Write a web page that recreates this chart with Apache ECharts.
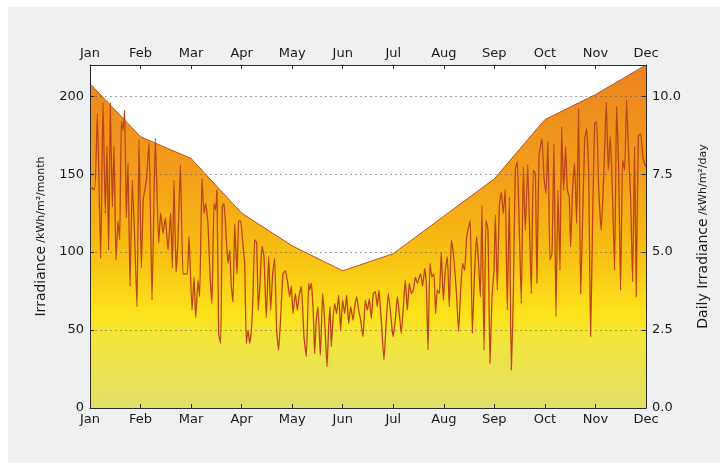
<!DOCTYPE html>
<html>
<head>
<meta charset="utf-8">
<script src="https://cdn.jsdelivr.net/npm/echarts@6/dist/echarts.min.js"></script>
<style>
body { margin: 0; background: #fff; }
#panel { position: absolute; left: 8px; top: 7px; width: 712px; height: 456px; background: #eff0f2; }
#chart { position: absolute; left: 0; top: 0; width: 728px; height: 473px; }
</style>
</head>
<body>
<div id="panel"></div>
<div id="chart"></div>
<script>
const months = ['Jan', 'Feb', 'Mar', 'Apr', 'May', 'Jun', 'Jul', 'Aug', 'Sep', 'Oct', 'Nov', 'Dec'];
// monthly irradiance kWh/m2/month
const monthly = [208, 174, 160, 125, 104, 88, 99, 123, 147, 185, 201, 220];
// daily irradiance kWh/m2/day, [month position, value]
const daily = [
    [0, 7.1], [0.092, 7.0], [0.145, 9.45], [0.211, 4.8], [0.257, 9.8], [0.303, 6.25], [0.336, 8.4], [0.369, 5.06],
    [0.402, 9.8], [0.442, 6.45], [0.475, 8.4], [0.514, 4.74], [0.554, 6.0], [0.587, 5.4], [0.620, 9.2], [0.653, 8.9],
    [0.686, 9.55], [0.719, 6.1], [0.752, 7.85], [0.792, 3.9], [0.838, 7.3], [0.884, 5.4], [0.930, 3.25], [0.970, 8.6],
    [1.016, 4.5], [1.055, 6.7], [1.115, 7.3], [1.168, 8.5], [1.227, 3.46], [1.293, 8.65], [1.359, 5.3], [1.398, 6.25],
    [1.445, 5.6], [1.491, 6.1], [1.544, 5.06], [1.596, 6.25], [1.629, 4.5], [1.662, 7.3], [1.702, 4.37], [1.741, 5.4],
    [1.788, 7.8], [1.840, 4.3], [1.887, 4.3], [1.926, 4.3], [1.959, 5.5], [2.018, 3.14], [2.058, 4.2], [2.091, 2.9],
    [2.137, 4.1], [2.169, 3.57], [2.216, 7.36], [2.255, 6.24], [2.288, 6.56], [2.334, 5.9], [2.374, 4.3], [2.413, 3.35],
    [2.453, 6.56], [2.486, 6.35], [2.512, 7.0], [2.545, 2.4], [2.585, 2.07], [2.618, 6.45], [2.651, 6.56], [2.697, 5.4],
    [2.730, 4.64], [2.763, 5.06], [2.796, 3.9], [2.829, 3.4], [2.862, 5.9], [2.908, 4.3], [2.941, 6.0], [2.981, 6.0],
    [3.027, 5.2], [3.060, 4.64], [3.093, 2.07], [3.126, 2.5], [3.159, 2.07], [3.192, 2.5], [3.224, 3.57], [3.258, 5.4],
    [3.297, 5.3], [3.330, 3.14], [3.363, 4.0], [3.403, 5.2], [3.442, 4.85], [3.488, 2.9], [3.535, 4.85], [3.574, 3.14],
    [3.614, 4.3], [3.653, 4.8], [3.693, 2.5], [3.732, 1.86], [3.772, 2.9], [3.818, 4.3], [3.864, 4.4], [3.904, 4.1],
    [3.950, 3.57], [3.983, 3.9], [4.016, 3.03], [4.062, 3.67], [4.102, 3.14], [4.135, 3.57], [4.181, 3.9], [4.233, 2.29],
    [4.280, 1.65], [4.326, 4.0], [4.346, 3.78], [4.379, 4.0], [4.418, 3.03], [4.444, 1.75], [4.477, 2.82], [4.510, 3.25],
    [4.557, 1.7], [4.603, 3.67], [4.642, 2.82], [4.689, 1.32], [4.722, 2.6], [4.748, 3.25], [4.774, 1.97], [4.807, 2.82],
    [4.840, 3.35], [4.880, 3.03], [4.919, 3.62], [4.959, 2.5], [4.998, 3.46], [5.038, 3.03], [5.078, 3.62], [5.117, 2.71],
    [5.157, 3.25], [5.203, 2.82], [5.236, 3.25], [5.276, 3.57], [5.315, 3.14], [5.355, 2.82], [5.401, 2.29], [5.447, 3.46],
    [5.487, 3.14], [5.526, 3.5], [5.565, 2.87], [5.605, 3.67], [5.645, 3.73], [5.684, 3.25], [5.717, 3.78], [5.763, 2.82],
    [5.816, 1.54], [5.862, 2.82], [5.902, 3.67], [5.948, 3.03], [5.994, 2.29], [6.040, 2.82], [6.080, 3.57], [6.113, 3.14],
    [6.159, 2.39], [6.199, 3.25], [6.238, 4.1], [6.278, 3.14], [6.318, 4.0], [6.357, 3.67], [6.397, 3.78], [6.436, 4.2],
    [6.476, 4.0], [6.515, 4.2], [6.541, 4.3], [6.581, 3.9], [6.621, 4.48], [6.654, 4.0], [6.687, 1.86], [6.726, 4.64],
    [6.766, 4.2], [6.805, 4.3], [6.838, 3.03], [6.871, 3.78], [6.911, 3.67], [6.950, 5.0], [6.990, 3.46], [7.029, 4.42],
    [7.069, 4.85], [7.109, 3.25], [7.148, 5.38], [7.188, 4.96], [7.227, 4.2], [7.254, 3.57], [7.293, 2.45], [7.333, 3.78],
    [7.372, 4.64], [7.412, 4.42], [7.452, 5.5], [7.491, 5.8], [7.524, 6.03], [7.564, 2.39], [7.610, 4.42], [7.649, 5.5],
    [7.689, 4.64], [7.722, 3.57], [7.755, 6.5], [7.795, 1.86], [7.834, 6.03], [7.874, 5.7], [7.913, 1.43], [7.953, 3.57],
    [7.992, 4.42], [8.019, 6.19], [8.058, 3.78], [8.098, 6.45], [8.137, 6.93], [8.177, 6.24], [8.216, 7.0], [8.256, 3.14],
    [8.296, 6.77], [8.335, 1.22], [8.375, 3.57], [8.414, 7.63], [8.454, 7.9], [8.494, 5.7], [8.533, 3.35], [8.573, 7.73],
    [8.612, 5.7], [8.66, 7.8], [8.731, 3.67], [8.770, 7.63], [8.810, 7.52], [8.843, 4.0], [8.882, 8.05], [8.942, 8.64],
    [8.981, 7.41], [9.021, 6.88], [9.060, 8.54], [9.100, 4.74], [9.140, 4.96], [9.179, 8.48], [9.219, 2.93], [9.258, 6.99],
    [9.298, 4.42], [9.331, 9.02], [9.370, 6.99], [9.410, 8.38], [9.443, 6.99], [9.482, 6.77], [9.509, 5.17], [9.548, 6.99],
    [9.588, 7.84], [9.627, 5.92], [9.667, 9.6], [9.707, 3.67], [9.746, 6.03], [9.786, 8.59], [9.825, 8.96], [9.865, 7.63],
    [9.904, 2.29], [9.944, 6.03], [9.984, 9.12], [10.023, 9.18], [10.063, 7.09], [10.115, 5.7], [10.168, 7.63], [10.214, 9.82],
    [10.254, 7.63], [10.293, 8.7], [10.333, 7.09], [10.378, 4.42], [10.418, 9.66], [10.457, 7.84], [10.497, 3.78], [10.537, 7.95],
    [10.577, 7.63], [10.616, 9.87], [10.656, 8.16], [10.695, 6.77], [10.735, 4.05], [10.774, 8.38], [10.807, 3.57], [10.847, 8.7],
    [10.893, 8.8], [10.939, 8.05], [10.972, 7.84], [11, 7.73]
];

const font = 'DejaVu Sans';
const frame = { show: true, onZero: false, lineStyle: { color: '#2b2b2b', width: 1 } };
const tick = { show: true, inside: true, length: 4, lineStyle: { color: '#2b2b2b' } };

function monthAxis(pos) {
    return {
        type: 'value', position: pos, min: 0, max: 11, interval: 1, z: 5,
        axisLine: frame, axisTick: tick, splitLine: { show: false },
        axisLabel: { formatter: v => months[v], color: '#1a1a1a', fontFamily: font, fontSize: 13, margin: 5 }
    };
}

const chart = echarts.init(document.getElementById('chart'));
chart.setOption({
    backgroundColor: 'transparent',
    animation: false,
    grid: { left: 90, right: 82, top: 65, bottom: 65, show: true, backgroundColor: '#ffffff', borderWidth: 0 },
    xAxis: [monthAxis('bottom'), monthAxis('top')],
    yAxis: [
        {
            type: 'value', min: 0, max: 220, interval: 50, z: 3,
            axisLine: frame, axisTick: tick,
            axisLabel: { showMaxLabel: false, color: '#1a1a1a', fontFamily: font, fontSize: 13, margin: 6 },
            splitLine: { show: true, lineStyle: { type: [2, 3], color: 'rgba(90,90,90,0.55)' } },
            name: '{a|Irradiance} {b|/kWh/m²/month}', nameLocation: 'middle', nameRotate: 90, nameGap: 42,
            nameTextStyle: { rich: { a: { fontFamily: font, fontSize: 14, color: '#1a1a1a' }, b: { fontFamily: font, fontSize: 11, color: '#1a1a1a' } } }
        },
        {
            type: 'value', min: 0, max: 11, interval: 2.5, z: 5,
            axisLine: frame, axisTick: tick, splitLine: { show: false },
            axisLabel: { showMaxLabel: false, formatter: v => v.toFixed(1), color: '#1a1a1a', fontFamily: font, fontSize: 13, margin: 6 },
            name: '{a|Daily Irradiance} {b|/kWh/m²/day}', nameLocation: 'middle', nameRotate: 90, nameGap: 50,
            nameTextStyle: { rich: { a: { fontFamily: font, fontSize: 14, color: '#1a1a1a' }, b: { fontFamily: font, fontSize: 11, color: '#1a1a1a' } } }
        }
    ],
    series: [
        {
            type: 'line', yAxisIndex: 0, symbol: 'none', z: 1,
            data: monthly.map((v, i) => [i, v]),
            lineStyle: { color: '#b8531c', width: 1 },
            areaStyle: {
                opacity: 1,
                color: new echarts.graphic.LinearGradient(0, 0, 0, 1, [
                    { offset: 0, color: '#ec8420' },
                    { offset: 0.32, color: '#f29e1a' },
                    { offset: 0.55, color: '#f8c013' },
                    { offset: 0.73, color: '#fde31b' },
                    { offset: 0.8, color: '#f3e53c' },
                    { offset: 1, color: '#dfe068' }
                ])
            }
        },
        {
            type: 'line', yAxisIndex: 1, symbol: 'none', z: 4, smooth: 0.15,
            data: daily,
            lineStyle: { color: '#bd4418', width: 1.3 }
        }
    ]
});
</script>
</body>
</html>
